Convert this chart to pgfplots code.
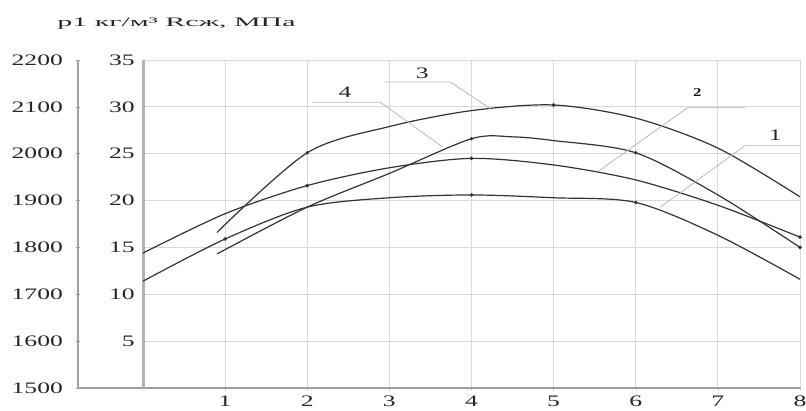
\documentclass[border=0pt]{standalone}
\usepackage{fontspec}
\setmainfont{Liberation Serif}
\usepackage{pgfplots}
\pgfplotsset{compat=1.18}

\newcommand{\tickfont}{\fontsize{16}{16}\selectfont}

\begin{document}
\begin{tikzpicture}
\useasboundingbox (0,0) rectangle (806pt,410pt);

% header above the two scales
\node[font=\fontsize{13}{13}\selectfont, xscale=2.3, anchor=west, text=black!85, inner sep=0pt] at (57pt,386pt) {p1 кг/м³ Rсж, МПа};

% outer scale, density
\begin{axis}[at={(78pt,22pt)}, anchor=south west, scale only axis,
  width=722pt, height=328pt,
  xmin=0, xmax=1, ymin=1500, ymax=2200,
  axis x line*=bottom, axis y line*=left,
  axis line style={-, draw=gray!75, line width=1.6pt},
  xtick=\empty, ytick={1500,1600,...,2200},
  major tick length=4pt, tick align=center,
  tick style={gray!75, line width=0.6pt},
  /pgf/number format/assume math mode=true,
  yticklabel style={font=\tickfont, xscale=1.6, inner sep=0pt, xshift=-8pt,
    /pgf/number format/1000 sep={}, text=black!85}]
\end{axis}

% inner scale, strength
\begin{axis}[at={(143pt,22pt)}, anchor=south west, scale only axis,
  width=657pt, height=328pt,
  xmin=0, xmax=8, ymin=0, ymax=35,
  axis x line*=bottom, axis y line*=left,
  x axis line style={-, draw=gray!75, line width=1.6pt},
  y axis line style={-, draw=gray!60, line width=3pt},
  xtick={1,...,8}, ytick={5,10,...,35},
  xmajorgrids, ymajorgrids, grid style={gray!30, line width=1pt},
  major tick length=3pt, tick align=center,
  tick style={gray!60, line width=0.5pt},
  /pgf/number format/assume math mode=true,
  xticklabel style={font=\tickfont, xscale=1.6, inner sep=0pt, yshift=-6pt, text=black!85},
  yticklabel style={font=\tickfont, xscale=1.6, inner sep=0pt, xshift=-4pt, text=black!85},
  clip=false,
  every axis plot/.append style={line width=1.2pt, smooth, mark=*, mark size=1.1pt}]

% curve 1
\addplot[black!80, mark indices={2,5,7}] coordinates {(0,11.4) (1,15.9) (2,19.3) (3,20.3) (4,20.6) (5,20.3) (6,19.8) (7,16.3) (8,11.6)};
% curve 2
\addplot[black!80, mark indices={3,5,9}] coordinates {(0,14.4) (1,18.6) (2,21.6) (3,23.5) (4,24.5) (5,23.8) (6,22.2) (7,19.5) (8,16.1)};
% curve 3
\addplot[black!80, mark indices={2,5}] coordinates {(0.9,16.6) (2,25.1) (3,27.9) (4,29.6) (5,30.2) (6,28.8) (7,25.6) (8,20.4)};
% curve 4
\addplot[black!80, mark indices={4,7,9}] coordinates {(0.9,14.3) (2,19.3) (3,22.9) (4,26.6) (4.5,26.8) (5,26.4) (6,25.1) (7,20.6) (8,15.0)};

% leader lines and curve numbers
\draw[gray!55, line width=0.8pt] (2.95,32.66) -- (3.74,32.66) -- (4.23,29.8);
\node[font=\tickfont, xscale=1.6, text=black!85] at (3.40,33.6) {3};
\draw[gray!55, line width=0.8pt] (2.06,30.5) -- (2.89,30.5) -- (3.65,25.7);
\node[font=\tickfont, xscale=1.6, text=black!85] at (2.46,31.6) {4};
\draw[gray!55, line width=0.8pt] (7.33,29.9) -- (6.63,29.9) -- (5.54,23.1);
\node[font=\fontsize{12}{12}\selectfont\bfseries, xscale=1.4, text=black!90] at (6.75,31.5) {2};
\draw[gray!55, line width=0.8pt] (8.0,25.85) -- (7.33,25.85) -- (6.30,19.3);
\node[font=\tickfont, xscale=1.6, text=black!85] at (7.70,27.0) {1};
\end{axis}
\end{tikzpicture}
\end{document}
